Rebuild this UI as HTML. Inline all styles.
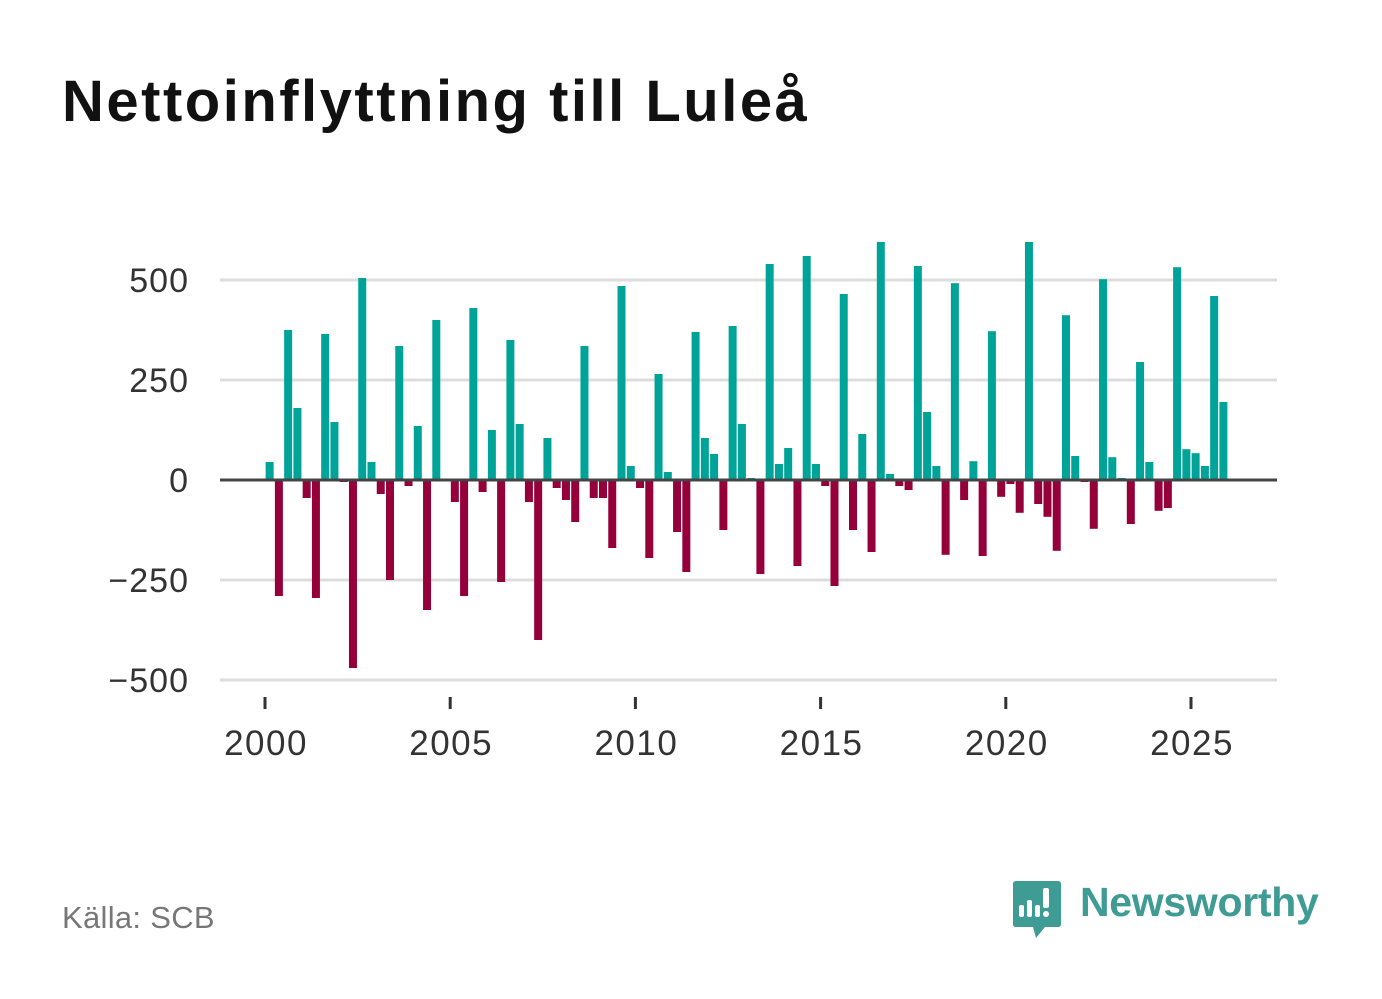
<!DOCTYPE html>
<html><head><meta charset="utf-8">
<style>
html,body{margin:0;padding:0;background:#fff;}
body{width:1382px;height:999px;position:relative;overflow:hidden;font-family:"Liberation Sans",sans-serif;}
#title{position:absolute;left:62px;top:68px;font-size:58px;font-weight:bold;color:#111;letter-spacing:2.5px;}
#source{position:absolute;left:62px;top:900px;font-size:31px;color:#777;letter-spacing:0.3px;}
#brand{position:absolute;left:1080px;top:879px;font-size:41px;font-weight:bold;color:#3f9c94;letter-spacing:-0.3px;}
svg{position:absolute;left:0;top:0;}
</style></head><body>
<div id="title">Nettoinflyttning till Luleå</div>
<svg id="chart" width="1382" height="999"></svg>
<div id="source">Källa: SCB</div>
<svg width="1382" height="999">
<path d="M1016 881 H1058 Q1061 881 1061 884 V924 Q1061 927 1058 927 H1045 L1036 938 L1033 927 H1016 Q1013 927 1013 924 V884 Q1013 881 1016 881 Z" fill="#3f9c94"/>
<rect x="1019" y="905" width="5" height="12" rx="2" fill="#fff"/>
<rect x="1027" y="900" width="5" height="17" rx="2" fill="#fff"/>
<rect x="1035" y="905" width="5" height="12" rx="2" fill="#fff"/>
<rect x="1043" y="888" width="6" height="20" rx="2" fill="#fff"/>
<circle cx="1046" cy="914" r="3" fill="#fff"/>
</svg>
<div id="brand">Newsworthy</div>
<script>
const startYear = 2000;
const values = [45,-290,375,180,-45,-295,365,145,-5,-470,505,45,-35,-250,335,-15,135,-325,400,0,
-55,-290,430,-30,125,-255,350,140,-55,-400,105,-20,-50,-105,335,-45,-45,-170,485,35,
-20,-195,265,20,-130,-230,370,105,65,-125,385,140,5,-235,540,40,80,-215,560,40,
-15,-265,465,-125,115,-180,595,15,-15,-25,535,170,35,-187,492,-50,47,-190,372,-42,
-10,-82,595,-60,-92,-177,412,60,-5,-122,502,57,5,-110,295,45,-77,-70,532,77,67,35,460,195];
const yTicks = [500,250,0,-250,-500];
const yTickLabels = ["500","250","0","\u2212250","\u2212500"];
const xTicks = [2000,2005,2010,2015,2020,2025];

const svg = document.getElementById('chart');
const NS = 'http://www.w3.org/2000/svg';
const x = t => 265 + (t - 2000) * 37.04;
const y = v => 480 - v * 0.4;
function mk(tag, attrs){const e=document.createElementNS(NS,tag);for(const k in attrs)e.setAttribute(k,attrs[k]);svg.appendChild(e);return e;}

yTicks.forEach((v,i)=>{
  if(v!==0){const g=mk('line',{x1:220,x2:1277,y1:y(v),y2:y(v),stroke:'#dddddd','stroke-width':3});
  
  }
  const t=mk('text',{x:189,y:y(v)+12,'text-anchor':'end','font-size':34,'letter-spacing':1,fill:'#333','font-family':'Liberation Sans, sans-serif'});
  t.textContent=yTickLabels[i];
  
  
});
values.forEach((v,i)=>{
  const t = startYear + (i + 0.5) / 4;
  const top = v>=0 ? y(v) : y(0);
  const h = Math.abs(y(v)-y(0));
  const r=mk('rect',{x:x(t)-4,y:top,width:8,height:h,fill:v>=0?'#00a398':'#95003b'});
  
  
});
const z=mk('line',{x1:220,x2:1277,y1:y(0),y2:y(0),stroke:'#444','stroke-width':3});


xTicks.forEach(yr=>{
  const tk=mk('line',{x1:x(yr),x2:x(yr),y1:697,y2:709,stroke:'#333','stroke-width':3});
  
  
  const t=mk('text',{x:x(yr)+1,y:755,'text-anchor':'middle','font-size':35,'letter-spacing':1.5,fill:'#333','font-family':'Liberation Sans, sans-serif'});
  t.textContent=yr;
  
  
});
</script>
</body></html>
